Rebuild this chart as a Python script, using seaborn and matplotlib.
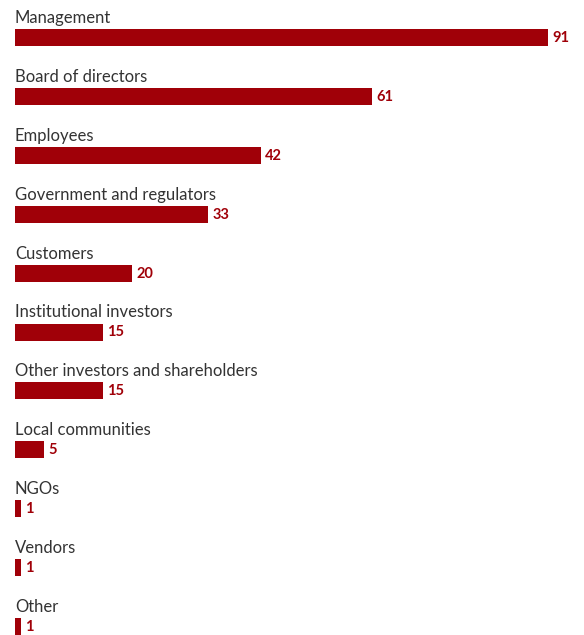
import matplotlib
matplotlib.use("Agg")
import matplotlib.pyplot as plt
import seaborn as sns
import pandas as pd

categories = [
    "Management",
    "Board of directors",
    "Employees",
    "Government and regulators",
    "Customers",
    "Institutional investors",
    "Other investors and shareholders",
    "Local communities",
    "NGOs",
    "Vendors",
    "Other",
]
values = [91, 61, 42, 33, 20, 15, 15, 5, 1, 1, 1]

BAR_COLOR = "#a00008"
LABEL_COLOR = "#333333"

sns.set_theme(style="white")
plt.rcParams["font.family"] = ["Lato", "DejaVu Sans"]

df = pd.DataFrame({"category": categories, "value": values})

W, H = 584, 635
fig = plt.figure(figsize=(W / 100, H / 100), dpi=100)
ax = fig.add_axes([0, 0, 1, 1])

px_per_unit = (548 - 15) / 91.0
pitch = 58.9
first_center = 37.5
bar_h = 17 / pitch

sns.barplot(data=df, x="value", y="category", orient="h", color=BAR_COLOR,
            width=bar_h, saturation=1, linewidth=0, ax=ax)

ax.set_xlim(-15 / px_per_unit, (W - 15) / px_per_unit)
ax.set_ylim((H - first_center) / pitch, -first_center / pitch)
ax.axis("off")

for i, (cat, v) in enumerate(zip(categories, values)):
    ax.text(0, i - 14.5 / pitch, cat, ha="left", va="baseline",
            fontsize=12, color=LABEL_COLOR)
    ax.text(v + 4 / px_per_unit, i + 0.5 / pitch, str(v), ha="left", va="center",
            fontsize=10.5, fontweight="bold", color=BAR_COLOR)

fig.savefig("out.png", dpi=100)
